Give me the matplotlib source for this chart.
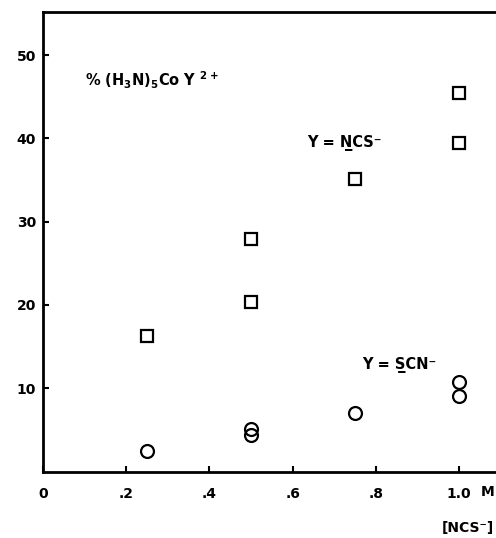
import matplotlib
matplotlib.use("Agg")
import matplotlib.pyplot as plt

# % (H3N)5CoY2+ vs [NCS-]
ncs_conc = [0.25, 0.5, 0.5, 0.75, 1.0, 1.0]
ncs_pct = [16.3, 20.4, 27.9, 35.1, 45.4, 39.4]   # Y = NCS-
scn_conc = [0.25, 0.5, 0.5, 0.75, 1.0, 1.0]
scn_pct = [2.5, 5.1, 4.4, 7.0, 10.8, 9.1]        # Y = SCN-

xticks = [0, 0.2, 0.4, 0.6, 0.8, 1.0]
xlabels = ["0", ".2", ".4", ".6", ".8", "1.0"]
yticks = [10, 20, 30, 40, 50]

plt.rcParams['font.family'] = ['DejaVu Sans']
plt.rcParams['font.weight'] = 'bold'
plt.rcParams['mathtext.fontset'] = 'dejavusans'
plt.rcParams['mathtext.default'] = 'bf'

fig = plt.figure(figsize=(4.96, 5.38), dpi=100)
ax = fig.add_axes([43 / 496, 66.4 / 538, 1 - 43 / 496, 459.6 / 538])

ax.plot(ncs_conc, ncs_pct, 's', ms=8.2, mfc='white', mec='black', mew=1.6)
ax.plot(scn_conc, scn_pct, 'o', ms=9.3, mfc='none', mec='black', mew=1.6)

ax.set_xlim(0, 453 / 416)
ax.set_ylim(0, 459.6 / 8.33)
ax.set_xticks(xticks)
ax.set_xticklabels(xlabels)
ax.set_yticks(yticks)

ax.spines['right'].set_visible(False)
for s in ['left', 'bottom', 'top']:
    ax.spines[s].set_linewidth(2)
ax.tick_params(direction='in', length=4, width=1.5, labelsize=10)
ax.tick_params(axis='x', pad=11)
ax.tick_params(axis='y', pad=5)

ax.text(0.101, 47.0, "% (H$_3$N)$_5$Co Y $^{2+}$", fontsize=10.5, va='center')
ax.text(0.635, 39.5, "Y = N\u0332CS\u207b", fontsize=10.5, va='center')
ax.text(0.767, 12.8, "Y = S\u0332CN\u207b", fontsize=10.5, va='center')
ax.text(1.07, -2.5, "M", fontsize=10, ha='center', va='center')
ax.text(1.022, -6.8, "[NCS\u207b]", fontsize=10, ha='center', va='center')

plt.savefig("out.png", dpi=100)
